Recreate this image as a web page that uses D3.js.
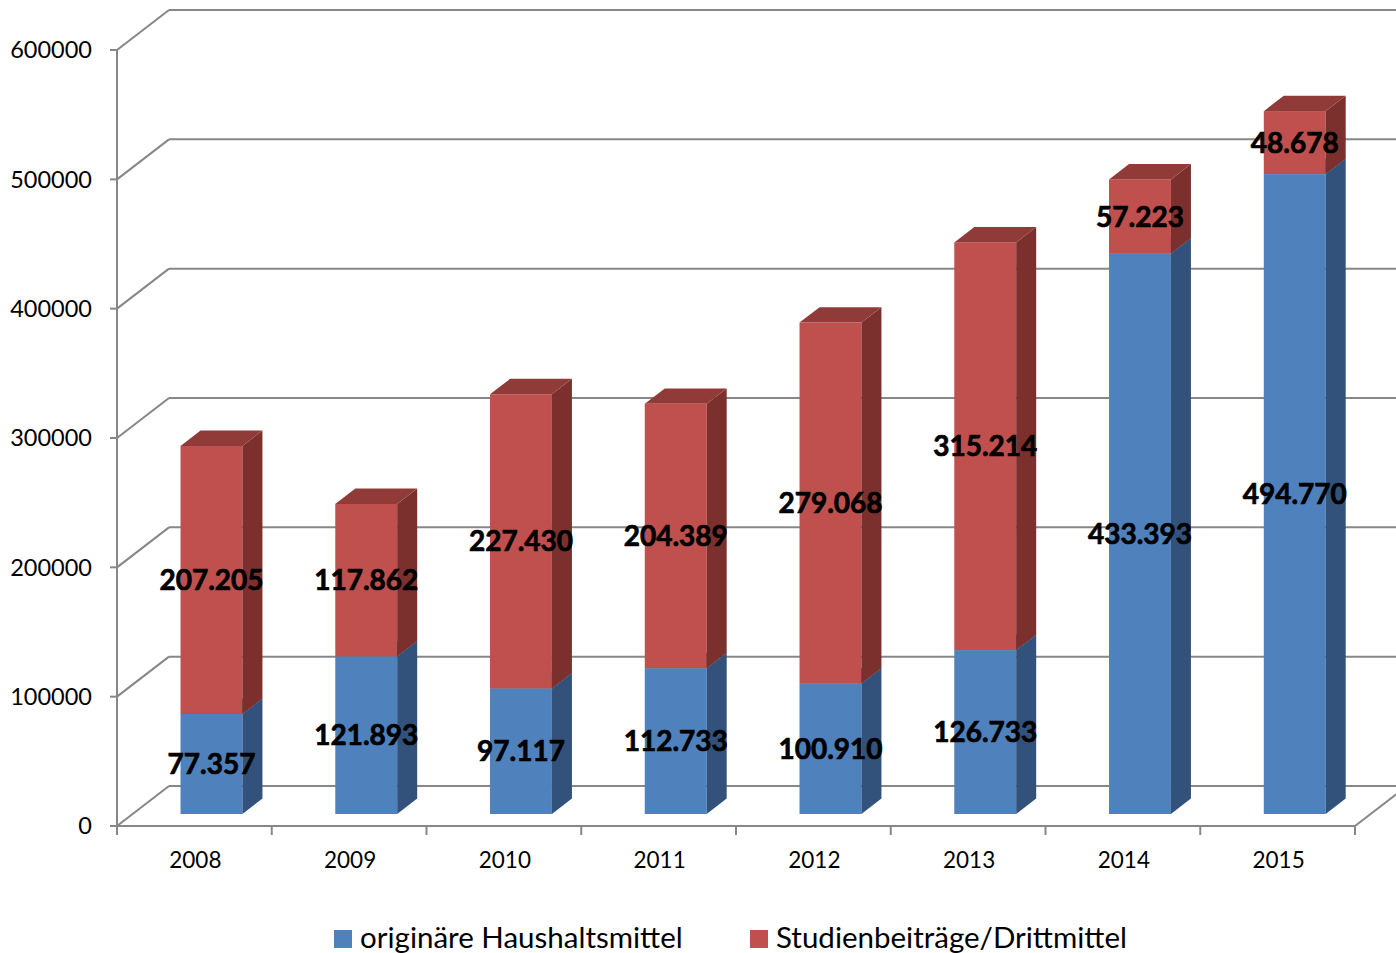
<!DOCTYPE html>
<html>
<head>
<meta charset="utf-8">
<script src="https://cdn.jsdelivr.net/npm/d3@7"></script>
<style>
  body { margin: 0; background: #fff; }
  svg text { font-family: Lato, "Open Sans", sans-serif; }
</style>
</head>
<body>
<div id="chart"></div>
<script>
// data
var years = ["2008", "2009", "2010", "2011", "2012", "2013", "2014", "2015"];
var haushalt = [77357, 121893, 97117, 112733, 100910, 126733, 433393, 494770];
var studien = [207205, 117862, 227430, 204389, 279068, 315214, 57223, 48678];
var seriesNames = ["originäre Haushaltsmittel", "Studienbeiträge/Drittmittel"];
var yTicks = [0, 100000, 200000, 300000, 400000, 500000, 600000];

var W = 1396, H = 953;
var svg = d3.select("#chart").append("svg").attr("width", W).attr("height", H);

// oblique 3d: depth goes right + up
var DX = 52, DY = -40;
var x = d3.scaleBand().domain(years).range([117, 1355]).paddingInner(0.6).paddingOuter(0.3);
var y = d3.scaleLinear().domain([0, 600000]).range([826, 50]);
var step = x.step();

function px(xf, d) { return xf + d * DX; }
function py(v, d) { return y(v) + d * DY; }

var gridColor = "#878787";
var grid = svg.append("g");

// back wall gridlines + side wall diagonals
yTicks.forEach(function(t) {
  grid.append("line")
    .attr("x1", px(117, 1)).attr("x2", W + 10)
    .attr("y1", py(t, 1)).attr("y2", py(t, 1))
    .attr("stroke", gridColor).attr("stroke-width", 2);
  grid.append("line")
    .attr("x1", 117).attr("y1", y(t))
    .attr("x2", px(117, 1)).attr("y2", py(t, 1))
    .attr("stroke", gridColor).attr("stroke-width", 2);
});

// left axis
grid.append("line").attr("x1", 117).attr("x2", 117)
  .attr("y1", y(600000)).attr("y2", y(0) + 9)
  .attr("stroke", gridColor).attr("stroke-width", 2);
yTicks.forEach(function(t) {
  grid.append("line").attr("x1", 110).attr("x2", 117)
    .attr("y1", y(t)).attr("y2", y(t))
    .attr("stroke", gridColor).attr("stroke-width", 2);
});
svg.append("g").selectAll("text").data(yTicks).enter().append("text")
  .attr("x", 92).attr("y", function(d) { return y(d); })
  .attr("dy", "0.36em")
  .attr("text-anchor", "end")
  .attr("font-size", 23.5)
  .attr("fill", "#000")
  .text(function(d) { return d; });

// floor front edge + right diagonal
var xEnd = 117 + step * years.length;
grid.append("line").attr("x1", 117).attr("x2", xEnd)
  .attr("y1", y(0)).attr("y2", y(0))
  .attr("stroke", gridColor).attr("stroke-width", 2);
grid.append("line").attr("x1", xEnd).attr("y1", y(0))
  .attr("x2", px(xEnd, 1)).attr("y2", py(0, 1))
  .attr("stroke", gridColor).attr("stroke-width", 2);
d3.range(years.length + 1).forEach(function(i) {
  grid.append("line").attr("x1", 117 + i * step).attr("x2", 117 + i * step)
    .attr("y1", y(0)).attr("y2", y(0) + 9)
    .attr("stroke", gridColor).attr("stroke-width", 2);
});

svg.append("g").selectAll("text").data(years).enter().append("text")
  .attr("x", function(d) { return x(d) + x.bandwidth() / 2 + 1; })
  .attr("y", 860).attr("dy", "0.36em")
  .attr("text-anchor", "middle")
  .attr("font-size", 22.5)
  .text(function(d) { return d; });

// bars
var d0 = 0.3, d1 = 0.685;
var fmt = d3.formatLocale({ decimal: ",", thousands: ".", grouping: [3], currency: ["", ""] }).format(",d");

var cols = [
  { front: "#4F81BD", side: "#33527b", top: "#3f6797" },
  { front: "#C0504D", side: "#7b302e", top: "#913b39" }
];

var stackData = years.map(function(yr, i) {
  return [
    { year: yr, lo: 0, hi: haushalt[i], s: 0 },
    { year: yr, lo: haushalt[i], hi: haushalt[i] + studien[i], s: 1 }
  ];
});

var bx = 1.5; // small nudge of the bars to the right
var bars = svg.append("g");
stackData.forEach(function(segs) {
  segs.forEach(function(s) {
    var xl = x(s.year) + bx, xr = x(s.year) + x.bandwidth() + bx;
    var c = cols[s.s];
    var g = bars.append("g");
    // front
    g.append("rect")
      .attr("x", px(xl, d0)).attr("y", py(s.hi, d0))
      .attr("width", xr - xl).attr("height", y(s.lo) - y(s.hi))
      .attr("fill", c.front);
    // side
    g.append("path")
      .attr("d", "M" + px(xr, d0) + "," + py(s.lo, d0) +
        "L" + px(xr, d1) + "," + py(s.lo, d1) +
        "L" + px(xr, d1) + "," + py(s.hi, d1) +
        "L" + px(xr, d0) + "," + py(s.hi, d0) + "Z")
      .attr("fill", c.side);
    // top
    g.append("path")
      .attr("d", "M" + px(xl, d0) + "," + py(s.hi, d0) +
        "L" + px(xr, d0) + "," + py(s.hi, d0) +
        "L" + px(xr, d1) + "," + py(s.hi, d1) +
        "L" + px(xl, d1) + "," + py(s.hi, d1) + "Z")
      .attr("fill", c.top);
  });
});

// value labels
stackData.forEach(function(segs) {
  segs.forEach(function(s) {
    bars.append("text")
      .attr("x", px(x(s.year) + x.bandwidth() / 2 + bx, d0))
      .attr("y", py((s.lo + s.hi) / 2, d0))
      .attr("dy", "0.36em")
      .attr("text-anchor", "middle")
      .attr("font-size", 28)
      .attr("font-weight", "bold")
      .attr("stroke", "#000").attr("stroke-width", 0.7)
      .attr("fill", "#000")
      .text(fmt(s.hi - s.lo));
  });
});

// legend
var legend = svg.append("g");
var legX = [334, 750];
seriesNames.forEach(function(name, i) {
  legend.append("rect").attr("x", legX[i]).attr("y", 930)
    .attr("width", 18).attr("height", 18).attr("fill", cols[i].front);
  legend.append("text").attr("x", legX[i] + 26).attr("y", 948)
    .attr("font-size", 29.5)
    .text(name);
});
</script>
</body>
</html>
